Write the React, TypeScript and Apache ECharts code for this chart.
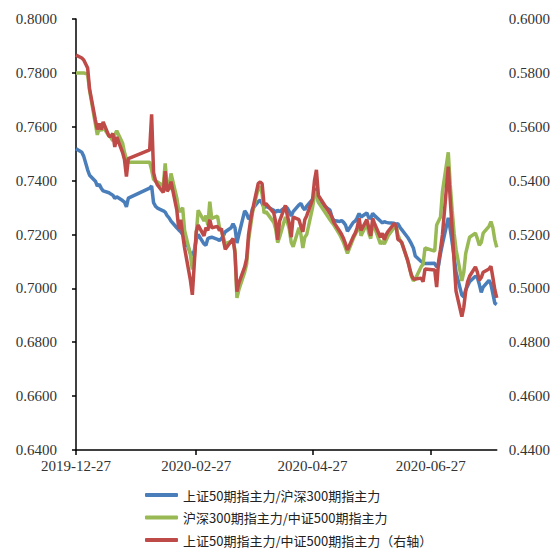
import React, { useEffect, useRef } from "react";
import * as echarts from "echarts";

// Trading days
const dates = [
  "2019-12-27","2019-12-30","2019-12-31",
  "2020-01-02","2020-01-03","2020-01-06","2020-01-07","2020-01-08","2020-01-09","2020-01-10","2020-01-13","2020-01-14","2020-01-15","2020-01-16","2020-01-17","2020-01-20","2020-01-21","2020-01-22","2020-01-23",
  "2020-02-03","2020-02-04","2020-02-05","2020-02-06","2020-02-07","2020-02-10","2020-02-11","2020-02-12","2020-02-13","2020-02-14","2020-02-17","2020-02-18","2020-02-19","2020-02-20","2020-02-21","2020-02-24","2020-02-25","2020-02-26","2020-02-27","2020-02-28",
  "2020-03-02","2020-03-03","2020-03-04","2020-03-05","2020-03-06","2020-03-09","2020-03-10","2020-03-11","2020-03-12","2020-03-13","2020-03-16","2020-03-17","2020-03-18","2020-03-19","2020-03-20","2020-03-23","2020-03-24","2020-03-25","2020-03-26","2020-03-27","2020-03-30","2020-03-31",
  "2020-04-01","2020-04-02","2020-04-03","2020-04-07","2020-04-08","2020-04-09","2020-04-10","2020-04-13","2020-04-14","2020-04-15","2020-04-16","2020-04-17","2020-04-20","2020-04-21","2020-04-22","2020-04-23","2020-04-24","2020-04-27","2020-04-28","2020-04-29","2020-04-30",
  "2020-05-06","2020-05-07","2020-05-08","2020-05-11","2020-05-12","2020-05-13","2020-05-14","2020-05-15","2020-05-18","2020-05-19","2020-05-20","2020-05-21","2020-05-22","2020-05-25","2020-05-26","2020-05-27","2020-05-28","2020-05-29",
  "2020-06-01","2020-06-02","2020-06-03","2020-06-04","2020-06-05","2020-06-08","2020-06-09","2020-06-10","2020-06-11","2020-06-12","2020-06-15","2020-06-16","2020-06-17","2020-06-18","2020-06-19","2020-06-22","2020-06-23","2020-06-24","2020-06-29","2020-06-30",
  "2020-07-01","2020-07-02","2020-07-03","2020-07-06","2020-07-07","2020-07-08","2020-07-09","2020-07-10","2020-07-13","2020-07-14","2020-07-15","2020-07-16","2020-07-17","2020-07-20","2020-07-21","2020-07-22","2020-07-23","2020-07-24","2020-07-27","2020-07-28","2020-07-29","2020-07-30","2020-07-31",
];

// 上证50期指主力 / 沪深300期指主力 (left axis)
const ihIf = [
  0.7518, 0.7505, 0.7490,
  0.7440, 0.7420, 0.7398, 0.7380, 0.7386, 0.7372, 0.7362, 0.7355, 0.7350, 0.7346, 0.7334, 0.7340, 0.7326, 0.7320, 0.7303, 0.7335,
  0.7372, 0.7380, 0.7318, 0.7305, 0.7298, 0.7288, 0.7283, 0.7270, 0.7262, 0.7250, 0.7225, 0.7217, 0.7210, 0.7200, 0.7190, 0.7130, 0.7122, 0.7140, 0.7180, 0.7200,
  0.7165, 0.7160, 0.7185, 0.7188, 0.7190, 0.7182, 0.7178, 0.7185, 0.7195, 0.7210, 0.7225, 0.7240, 0.7225, 0.7168, 0.7200, 0.7288, 0.7278, 0.7258, 0.7262, 0.7295, 0.7322, 0.7328,
  0.7315, 0.7300, 0.7305, 0.7290, 0.7282, 0.7290, 0.7285, 0.7302, 0.7298, 0.7285, 0.7268, 0.7285, 0.7310, 0.7315, 0.7300, 0.7292, 0.7305, 0.7330, 0.7350, 0.7372, 0.7322,
  0.7290, 0.7265, 0.7252, 0.7248, 0.7252, 0.7245, 0.7235, 0.7212, 0.7245, 0.7250, 0.7262, 0.7278, 0.7265, 0.7280, 0.7262, 0.7260, 0.7278, 0.7270,
  0.7250, 0.7243, 0.7248, 0.7245, 0.7244, 0.7242, 0.7238, 0.7240, 0.7228, 0.7218, 0.7190, 0.7178, 0.7165, 0.7150, 0.7120, 0.7100, 0.7095, 0.7092, 0.7093, 0.7080,
  0.7085, 0.7130, 0.7165, 0.7262, 0.7220, 0.7170, 0.7120, 0.7060, 0.6975, 0.6968, 0.6995, 0.7010, 0.7025, 0.7045, 0.7040, 0.7015, 0.6985, 0.7005, 0.7030, 0.7015, 0.6980, 0.6945, 0.6940,
];

// 沪深300期指主力 / 中证500期指主力 (left axis)
const ifIc = [
  0.7800, 0.7800, 0.7800,
  0.7795, 0.7735, 0.7610, 0.7570, 0.7595, 0.7585, 0.7600, 0.7565, 0.7560, 0.7548, 0.7570, 0.7585, 0.7540, 0.7505, 0.7480, 0.7468,
  0.7468, 0.7440, 0.7405, 0.7398, 0.7395, 0.7380, 0.7464, 0.7380, 0.7365, 0.7427, 0.7335, 0.7290, 0.7285, 0.7300, 0.7215, 0.7125, 0.7070, 0.7115, 0.7200, 0.7290,
  0.7250, 0.7270, 0.7235, 0.7322, 0.7260, 0.7268, 0.7225, 0.7215, 0.7190, 0.7165, 0.7175, 0.7180, 0.7140, 0.6965, 0.6995, 0.7060, 0.7090, 0.7180, 0.7230, 0.7280, 0.7372, 0.7378,
  0.7350, 0.7280, 0.7285, 0.7245, 0.7220, 0.7170, 0.7190, 0.7265, 0.7245, 0.7220, 0.7170, 0.7155, 0.7225, 0.7200, 0.7150, 0.7190, 0.7200, 0.7300, 0.7345, 0.7360, 0.7320,
  0.7255, 0.7245, 0.7235, 0.7200, 0.7185, 0.7170, 0.7150, 0.7130, 0.7185, 0.7200, 0.7215, 0.7245, 0.7195, 0.7240, 0.7205, 0.7185, 0.7240, 0.7225,
  0.7165, 0.7175, 0.7165, 0.7180, 0.7195, 0.7225, 0.7235, 0.7200, 0.7180, 0.7170, 0.7105, 0.7080, 0.7045, 0.7028, 0.7035, 0.7080, 0.7090, 0.7150, 0.7138, 0.7235,
  0.7250, 0.7265, 0.7360, 0.7505, 0.7385, 0.7290, 0.7205, 0.7145, 0.7028, 0.7060, 0.7130, 0.7160, 0.7190, 0.7205, 0.7185, 0.7160, 0.7170, 0.7205, 0.7230, 0.7248, 0.7225, 0.7180, 0.7152,
];

// 上证50期指主力 / 中证500期指主力 (right axis)
const ihIc = [
  0.5866, 0.5855, 0.5848,
  0.5818, 0.5740, 0.5625, 0.5590, 0.5612, 0.5590, 0.5618, 0.5565, 0.5565, 0.5575, 0.5525, 0.5562, 0.5505, 0.5478, 0.5415, 0.5482,
  0.5514, 0.5646, 0.5430, 0.5400, 0.5384, 0.5356, 0.5435, 0.5360, 0.5372, 0.5396, 0.5290, 0.5220, 0.5255, 0.5200, 0.5150, 0.5030, 0.4976, 0.5090, 0.5210, 0.5235,
  0.5195, 0.5225, 0.5215, 0.5255, 0.5225, 0.5230, 0.5215, 0.5222, 0.5180, 0.5145, 0.5175, 0.5185, 0.5130, 0.4988, 0.5020, 0.5080, 0.5110, 0.5200, 0.5250, 0.5290, 0.5390, 0.5395,
  0.5388, 0.5310, 0.5315, 0.5280, 0.5245, 0.5180, 0.5250, 0.5308, 0.5270, 0.5240, 0.5190, 0.5265, 0.5255, 0.5230, 0.5210, 0.5255, 0.5270, 0.5330, 0.5400, 0.5440, 0.5345,
  0.5278, 0.5265, 0.5245, 0.5212, 0.5200, 0.5185, 0.5165, 0.5143, 0.5192, 0.5205, 0.5225, 0.5260, 0.5215, 0.5255, 0.5225, 0.5195, 0.5260, 0.5240,
  0.5190, 0.5205, 0.5180, 0.5200, 0.5212, 0.5240, 0.5235, 0.5182, 0.5178, 0.5170, 0.5105, 0.5075, 0.5050, 0.5035, 0.5035, 0.5038, 0.5025, 0.5072, 0.5068, 0.5005,
  0.5100, 0.5145, 0.5200, 0.5452, 0.5330, 0.5220, 0.5100, 0.4990, 0.4895, 0.4930, 0.4990, 0.5025, 0.5045, 0.5080, 0.5060, 0.5030, 0.5040, 0.5060, 0.5072, 0.5082, 0.5040, 0.4995, 0.4965,
];

const seriesNames = [
  "上证50期指主力/沪深300期指主力",
  "沪深300期指主力/中证500期指主力",
  "上证50期指主力/中证500期指主力（右轴）",
];

const tickDates = ["2019-12-27", "2020-02-27", "2020-04-27", "2020-06-27"];

// Dates are placed on a linear day scale so that gaps (holidays) keep their width.
const DAY = 86400000;
const toDay = (s: string) => {
  const [y, m, d] = s.split("-").map(Number);
  return Math.round(Date.UTC(y, m - 1, d) / DAY);
};

const pad = (n: number) => (n < 10 ? "0" + n : "" + n);
const fmtDay = (day: number) => {
  const d = new Date(Math.round(day) * DAY);
  return `${d.getUTCFullYear()}-${pad(d.getUTCMonth() + 1)}-${pad(d.getUTCDate())}`;
};

const SERIF = "'Liberation Serif', 'DejaVu Serif', serif";
const CJK = "'Noto Sans CJK SC', 'Noto Sans', sans-serif";

export default function App() {
  const ref = useRef<HTMLDivElement>(null);

  useEffect(() => {
    if (!ref.current) return;
    const chart = echarts.init(ref.current, undefined, { renderer: "svg" });
    const pairs = (vals: number[]) => dates.map((d, i) => [toDay(d), vals[i]]);
    const tickDays = tickDates.map(toDay);

    // one legend row per series, stacked vertically
    const legendTops = [483, 505.5, 528];
    const legends = seriesNames.map((name, i) => ({
      orient: "vertical",
      left: 140,
      top: legendTops[i],
      itemWidth: 33,
      itemHeight: 4,
      itemGap: 0,
      icon: "roundRect",
      data: [name],
      textStyle: { fontFamily: CJK, fontSize: 13, lineHeight: 14, color: "#222" },
    }));

    chart.setOption({
      animation: false,
      backgroundColor: "#fff",
      grid: { left: 76, right: 56, top: 19, bottom: 98, containLabel: false },
      legend: legends,
      xAxis: {
        type: "value",
        min: toDay(dates[0]),
        max: toDay(dates[dates.length - 1]),
        axisLine: { lineStyle: { color: "#000", width: 1.5 } },
        axisTick: {
          show: true,
          customValues: tickDays,
          length: 5,
          lineStyle: { color: "#000", width: 1.5 },
        },
        axisLabel: {
          customValues: tickDays,
          formatter: (v: number) => fmtDay(v),
          fontFamily: SERIF,
          fontSize: 15,
          color: "#333",
          margin: 8,
          hideOverlap: false,
          showMinLabel: true,
        },
        splitLine: { show: false },
      },
      yAxis: [
        {
          type: "value",
          min: 0.64,
          max: 0.8,
          interval: 0.02,
          axisLine: { show: true, lineStyle: { color: "#000", width: 1.5 } },
          axisTick: { show: true, length: 4, lineStyle: { color: "#000", width: 1.5 } },
          axisLabel: {
            formatter: (v: number) => v.toFixed(4),
            fontFamily: SERIF,
            fontSize: 15,
            color: "#333",
            margin: 19,
          },
          splitLine: { show: false },
        },
        {
          type: "value",
          min: 0.44,
          max: 0.6,
          interval: 0.02,
          position: "right",
          axisLine: { show: false },
          axisTick: { show: false },
          axisLabel: {
            formatter: (v: number) => v.toFixed(4),
            fontFamily: SERIF,
            fontSize: 15,
            color: "#333",
            margin: 12,
          },
          splitLine: { show: false },
        },
      ],
      series: [
        {
          name: seriesNames[0],
          type: "line",
          yAxisIndex: 0,
          data: pairs(ihIf),
          symbol: "none",
          color: "#4A7EBB",
          lineStyle: { width: 3.5, color: "#4A7EBB" },
        },
        {
          name: seriesNames[1],
          type: "line",
          yAxisIndex: 0,
          data: pairs(ifIc),
          symbol: "none",
          color: "#98B954",
          lineStyle: { width: 3.5, color: "#98B954" },
        },
        {
          name: seriesNames[2],
          type: "line",
          yAxisIndex: 1,
          data: pairs(ihIc),
          symbol: "none",
          color: "#BE4B48",
          lineStyle: { width: 3.5, color: "#BE4B48" },
        },
      ],
    });

    return () => chart.dispose();
  }, []);

  return <div ref={ref} style={{ width: 553, height: 548, position: "absolute", left: 0, top: 0 }} />;
}
